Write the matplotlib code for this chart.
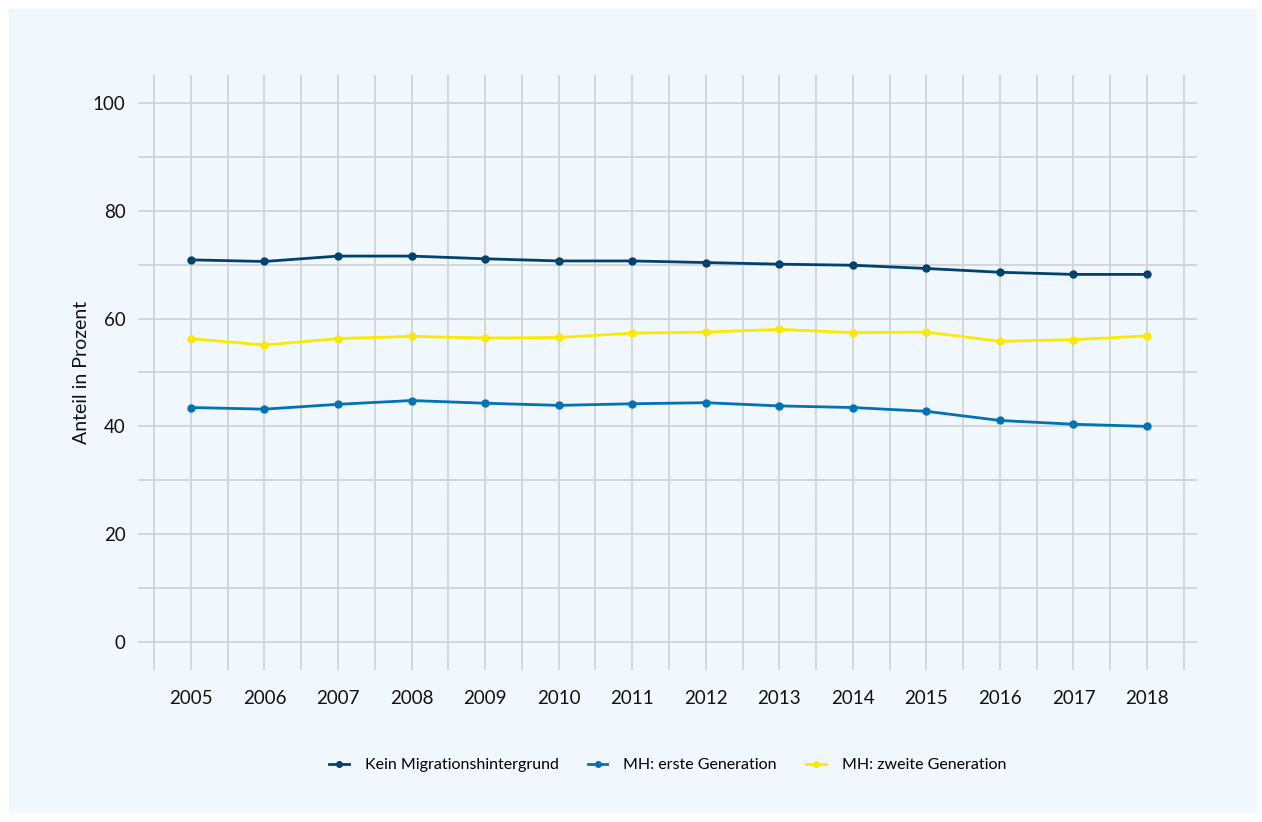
import numpy as np
import matplotlib.pyplot as plt
from matplotlib.patches import Rectangle

plt.rcParams['font.family'] = ['Lato', 'DejaVu Sans']

# Data
years = [2005, 2006, 2007, 2008, 2009, 2010, 2011, 2012, 2013, 2014, 2015, 2016, 2017, 2018]
kein_mh = [70.9, 70.6, 71.6, 71.6, 71.1, 70.7, 70.7, 70.4, 70.1, 69.9, 69.3, 68.6, 68.2, 68.2]
mh_erste = [43.5, 43.2, 44.1, 44.8, 44.3, 43.9, 44.2, 44.4, 43.8, 43.5, 42.8, 41.1, 40.4, 40.0]
mh_zweite = [56.3, 55.1, 56.3, 56.7, 56.4, 56.5, 57.3, 57.5, 58.0, 57.4, 57.5, 55.8, 56.1, 56.8]
labels = ['Kein Migrationshintergrund', 'MH: erste Generation', 'MH: zweite Generation']
colors = ['#00416e', '#0072b5', '#f9ea00']
y_ticks = [0, 20, 40, 60, 80, 100]

# Figure
W, H = 1262, 822
fig = plt.figure(figsize=(W / 100, H / 100), dpi=100)
fig.patch.set_facecolor('white')
fig.patches.append(Rectangle((9 / W, 9 / H), 1248 / W, 804 / H, transform=fig.transFigure,
                             facecolor='#f0f8fd', edgecolor='none', zorder=-1))

ax = fig.add_axes([138 / W, (H - 670) / H, (1197 - 138) / W, (670 - 75) / H])
ax.set_facecolor('none')

x_min, x_max = 2004.28, 2018.68
y_min, y_max = -5.2, 105.2
ax.set_xlim(x_min, x_max)
ax.set_ylim(y_min, y_max)

# grid: horizontal every 10, vertical every half year
grid_col = '#cfd4d8'
ax.hlines(np.arange(0, 101, 10), x_min, x_max, color=grid_col, lw=1.3, zorder=1)
ax.vlines(np.arange(2004.5, 2019, 0.5), y_min, y_max, color=grid_col, lw=1.3, zorder=1)

for vals, lab, col in zip([kein_mh, mh_erste, mh_zweite], labels, colors):
    ax.plot(years, vals, color=col, lw=2.0, marker='o', markersize=5, label=lab, zorder=3)

for s in ax.spines.values():
    s.set_visible(False)
ax.set_xticks(years, labels=[str(y) for y in years], fontsize=13.5)
ax.set_yticks(y_ticks, labels=[str(v) for v in y_ticks], fontsize=13.5)
ax.tick_params(axis='x', length=0, pad=14.5, colors='#111111')
ax.tick_params(axis='y', length=0, pad=9, colors='#111111')
ax.set_ylabel('Anteil in Prozent', fontsize=14, color='#111111', labelpad=2)

ax.legend(loc='center', bbox_to_anchor=(0.5, -0.16), ncol=3, frameon=False, fontsize=11.5,
          handlelength=1.25, handletextpad=1.0, columnspacing=1.8, markerscale=0.8)

plt.savefig('out.png', dpi=100)
plt.close()
